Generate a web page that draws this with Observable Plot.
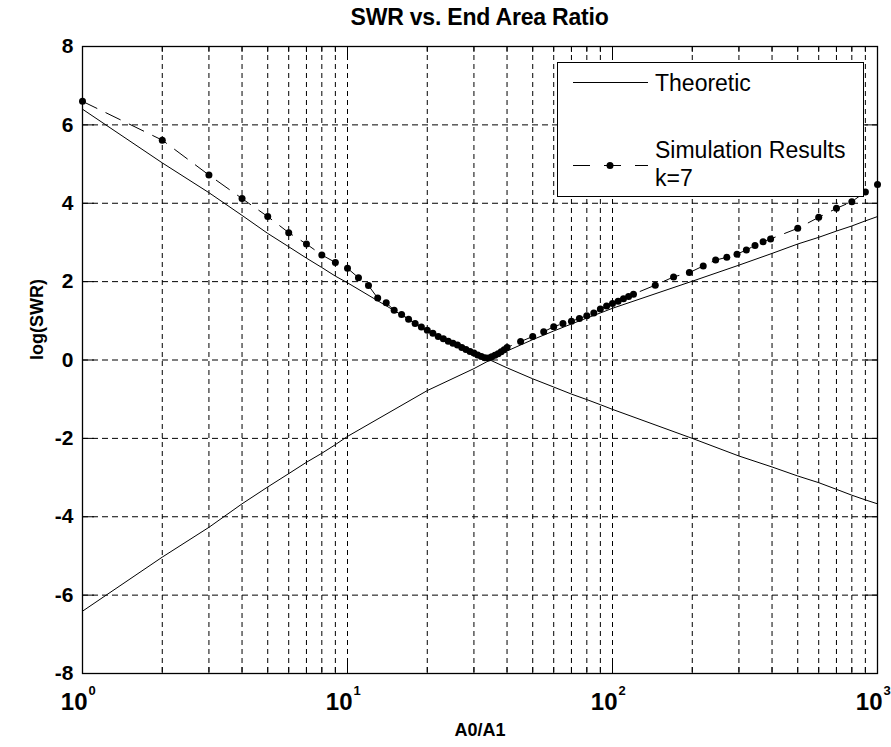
<!DOCTYPE html>
<html><head><meta charset="utf-8">
<script src="https://cdn.jsdelivr.net/npm/d3@7"></script>
<script src="https://cdn.jsdelivr.net/npm/@observablehq/plot@0.6"></script>
<style>
body{margin:0;background:#fff;}
#wrap{position:relative;width:891px;height:747px;font-family:"Liberation Sans",Arial,sans-serif;overflow:hidden;}
#title{height:36px;box-sizing:border-box;padding:0 14px 0 82px;line-height:34px;text-align:center;font-weight:bold;font-size:23px;color:#000;letter-spacing:-0.2px;}
#chart svg{display:block;}
#legend{position:absolute;left:557px;top:62px;width:307px;height:135px;border:1px solid #000;background:#fff;box-sizing:border-box;font-size:23px;color:#000;}
#legend .t{position:absolute;left:97px;white-space:nowrap;line-height:1;}
#legend svg{position:absolute;left:0;top:0;}
</style></head><body>
<div id="wrap">
<div id="title">SWR vs. End Area Ratio</div>
<div id="chart"></div>
<div id="legend">
<svg width="307" height="135">
<line x1="15" y1="19.5" x2="90" y2="19.5" stroke="#000" stroke-width="1"/>
<line x1="15" y1="102.5" x2="90" y2="102.5" stroke="#000" stroke-width="1" stroke-dasharray="17,14"/>
<circle cx="52" cy="102.5" r="3.5" fill="#000"/>
</svg>
<div class="t" style="top:9px">Theoretic</div>
<div class="t" style="top:76px">Simulation Results</div>
<div class="t" style="top:104px">k=7</div>
</div>
</div>
<script>
// ---- data ----
const theoX    = [1,2,3,4,5,6,7,8,9,10,20,30,40,50,60,70,80,90,100,200,300,400,500,600,700,800,900,1000];
const theoDown = [6.40,5.03,4.27,3.69,3.23,2.89,2.60,2.36,2.14,1.97,0.76,0.19,-0.20,-0.48,-0.69,-0.87,-1.01,-1.14,-1.26,-2.00,-2.45,-2.73,-2.96,-3.13,-3.30,-3.45,-3.57,-3.67];
const theoUp   = [-6.41,-5.03,-4.27,-3.67,-3.24,-2.90,-2.61,-2.38,-2.16,-1.95,-0.78,-0.22,0.23,0.52,0.74,0.92,1.07,1.20,1.32,2.01,2.42,2.72,2.96,3.13,3.29,3.42,3.55,3.66];

const simX = [1,2,3,4,5,6,7,8,9,10,11,12,13,14,15,16,17,18,19,20,21,22,23,24,25,26,27,28,29,30,31,32,33,34,35,36,37,38,39,40,
              45,50,55,60,65,70,75,80,85,90,95,100,105,110,115,120,
              145,170,195,220,245,270,295,320,345,370,395,
              500,600,700,800,900,1000];
const simY = [6.60,5.61,4.72,4.12,3.66,3.25,2.96,2.68,2.49,2.34,2.10,1.90,1.58,1.46,1.27,1.16,1.04,0.93,0.84,0.76,0.68,0.60,0.54,0.48,0.43,0.38,0.32,0.27,0.22,0.18,0.13,0.09,0.06,0.05,0.08,0.12,0.16,0.21,0.26,0.32,
              0.47,0.60,0.72,0.85,0.93,0.99,1.06,1.13,1.20,1.30,1.38,1.44,1.50,1.56,1.62,1.68,
              1.91,2.12,2.23,2.40,2.55,2.62,2.70,2.81,2.92,3.02,3.09,
              3.36,3.64,3.87,4.04,4.29,4.48];

const xMajor = [1,10,100,1000];
const xMinor = [2,3,4,5,6,7,8,9,20,30,40,50,60,70,80,90,200,300,400,500,600,700,800,900];
const yTicks = [-8,-6,-4,-2,0,2,4,6,8];
const xLabel = "A0/A1";
const yLabel = "log(SWR)";

// ---- chart ----
const W = 891, H = 711, mL = 82, mR = 14, mT = 10, mB = 74;
const plotH = H - mT - mB, plotW = W - mL - mR;
const dy = px => px * 16 / plotH;               // px -> y data units
const dxf = px => Math.pow(10, px * 3 / plotW);  // px -> log-x factor
const yInner = yTicks.filter(v => v > -8 && v < 8);
const theo = theoX.map((x, i) => ({x, down: theoDown[i], up: theoUp[i]}));
const sim = simX.map((x, i) => ({x, y: simY[i]}));
const bold = {fontWeight: "bold", fill: "#000"};

const chart = Plot.plot({
  width: W, height: H, marginLeft: mL, marginRight: mR, marginTop: mT, marginBottom: mB,
  x: {type: "log", domain: [1, 1000], axis: null},
  y: {domain: [-8, 8], axis: null},
  style: {background: "#fff", overflow: "visible", fontFamily: "'Liberation Sans', Arial, sans-serif"},
  marks: [
    Plot.ruleX(xMinor.concat([10, 100]), {x: d => d, stroke: "#000", strokeWidth: 1, strokeDasharray: "5,4"}),
    Plot.ruleY(yInner, {y: d => d, stroke: "#000", strokeWidth: 1, strokeDasharray: "6,4"}),
    Plot.ruleX(xMinor, {x: d => d, y1: -8, y2: -8 + dy(6), stroke: "#000"}),
    Plot.ruleX(xMinor, {x: d => d, y1: 8, y2: 8 - dy(6), stroke: "#000"}),
    Plot.ruleX(xMajor, {x: d => d, y1: -8, y2: -8 + dy(12), stroke: "#000"}),
    Plot.ruleX(xMajor, {x: d => d, y1: 8, y2: 8 - dy(12), stroke: "#000"}),
    Plot.ruleY(yTicks, {y: d => d, x1: 1, x2: dxf(12), stroke: "#000"}),
    Plot.ruleY(yTicks, {y: d => d, x1: 1000 / dxf(12), x2: 1000, stroke: "#000"}),
    Plot.line(theo, {x: "x", y: "down", stroke: "#000", strokeWidth: 1}),
    Plot.line(theo, {x: "x", y: "up", stroke: "#000", strokeWidth: 1}),
    Plot.line(sim, {x: "x", y: "y", stroke: "#000", strokeWidth: 1, strokeDasharray: "16,10"}),
    Plot.dot(sim, {x: "x", y: "y", r: 3.5, fill: "#000", stroke: "none"}),
    Plot.frame({stroke: "#000", strokeWidth: 1.3}),
    Plot.text(yTicks, {x: 1, y: d => d, text: d => String(d), textAnchor: "end", dx: -9, fontSize: 21, ...bold}),
    Plot.text(xMajor, {x: d => d, y: -8, text: () => "10", textAnchor: "end", dx: 5, dy: 29, fontSize: 24, letterSpacing: -1, ...bold}),
    Plot.text(xMajor, {x: d => d, y: -8, text: d => String(Math.round(Math.log10(d))), textAnchor: "start", dx: 6, dy: 17, fontSize: 13, ...bold}),
    Plot.text([xLabel], {frameAnchor: "bottom", text: d => d, dy: 62, fontSize: 18, ...bold}),
    Plot.text([yLabel], {frameAnchor: "left", text: d => d, rotate: -90, dx: -45, fontSize: 18, ...bold})
  ]
});
document.getElementById("chart").appendChild(chart);
</script>
</body></html>
